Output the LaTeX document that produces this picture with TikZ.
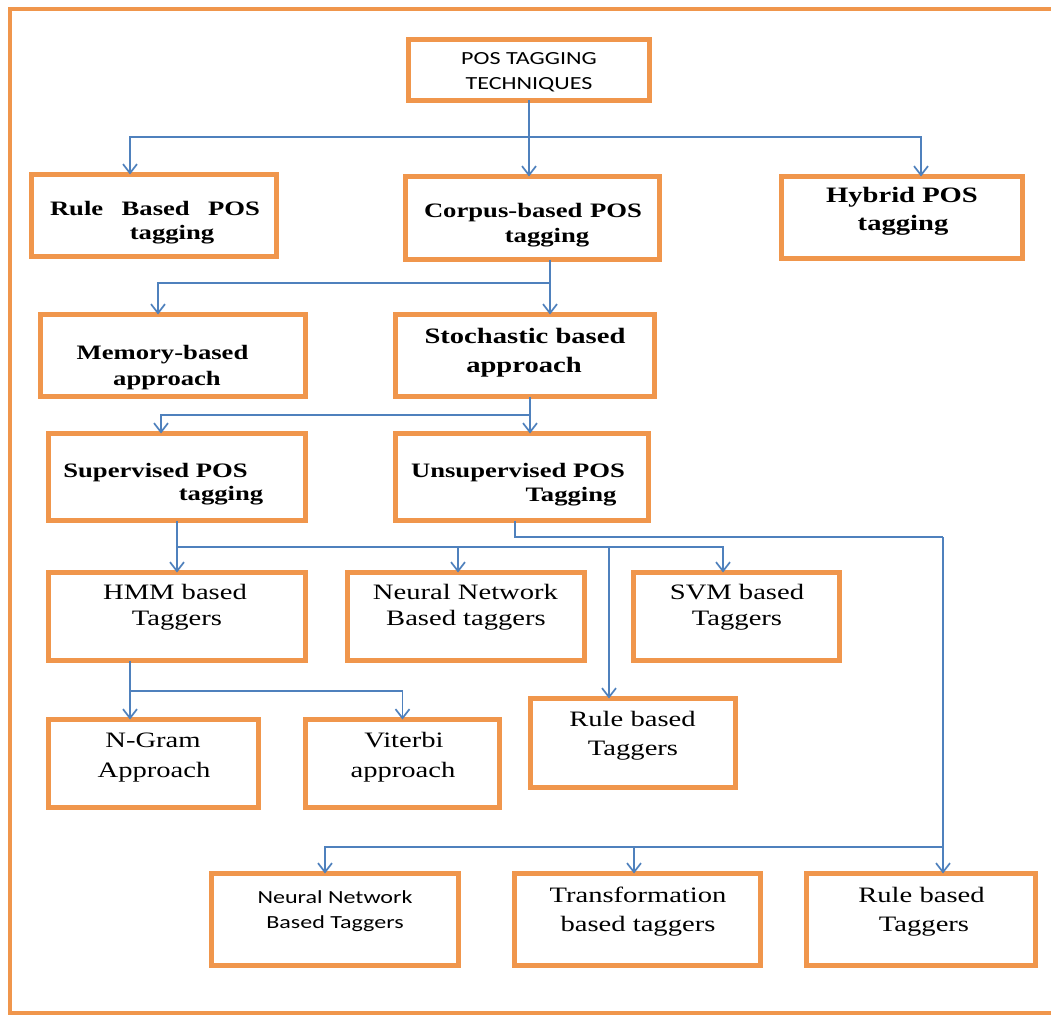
\documentclass[tikz,border=0pt]{standalone}
\usepackage{fontspec}
\setmainfont[FakeStretch=1.3]{Liberation Serif}
\newfontfamily\calib[FakeStretch=1.3]{Carlito}
\usetikzlibrary{arrows.meta,calc}
\definecolor{boxorange}{HTML}{F0964C}
\definecolor{linkblue}{HTML}{4F81BD}
\begin{document}
\begin{tikzpicture}[x=1pt,y=-1pt,
  box/.style={draw=boxorange,line width=4.2pt,inner sep=0pt,outer sep=0pt,fill=white},
  tx/.style={anchor=base,inner sep=0pt,outer sep=0pt},
  tn/.style={tx,font=\fontsize{22}{26}\selectfont},
  tb/.style={tx,font=\bfseries\fontsize{20.5}{24}\selectfont},
  tbb/.style={tx,font=\bfseries\fontsize{22}{26}\selectfont},
  tc/.style={tx,font=\calib\fontsize{18.5}{22}\selectfont},
  conn/.style={draw=linkblue,line width=1.9pt},
  arr/.style={conn,-{Straight Barb[length=9pt,width=14pt,line width=1.7pt]}}]
\useasboundingbox (0,0) rectangle (1051,1016);
\fill[white] (0,0) rectangle (1051,1016);
% outer frame
\draw[boxorange,line width=3.5pt] (1053,9) -- (10,9) -- (10,1013) -- (1053,1013);

% boxes
\node[box,minimum width=241pt,minimum height=61pt] (root) at (529,70) {};
\node[box,minimum width=245pt,minimum height=82pt] (rule) at (154,215.5) {};
\node[box,minimum width=254pt,minimum height=83pt] (corpus) at (532.5,218) {};
\node[box,minimum width=241pt,minimum height=82pt] (hybrid) at (902,217.5) {};
\node[box,minimum width=265pt,minimum height=82pt] (memory) at (173,355.5) {};
\node[box,minimum width=259pt,minimum height=82pt] (stoch) at (525,355.5) {};
\node[box,minimum width=257pt,minimum height=87pt] (sup) at (177,477) {};
\node[box,minimum width=253pt,minimum height=87pt] (unsup) at (522,477) {};
\node[box,minimum width=257pt,minimum height=88pt] (hmm) at (177,616.5) {};
\node[box,minimum width=237pt,minimum height=88pt] (nn) at (466,616.5) {};
\node[box,minimum width=206pt,minimum height=88pt] (svm) at (736.5,616.5) {};
\node[box,minimum width=205pt,minimum height=89pt] (rulemid) at (633,743) {};
\node[box,minimum width=210pt,minimum height=88pt] (ngram) at (153.5,763.5) {};
\node[box,minimum width=194pt,minimum height=88pt] (viterbi) at (402.5,763.5) {};
\node[box,minimum width=247pt,minimum height=92pt] (nnb) at (335,919.5) {};
\node[box,minimum width=246pt,minimum height=92pt] (trans) at (637.5,919.5) {};
\node[box,minimum width=229pt,minimum height=92pt] (ruleb) at (921,919.5) {};

% texts
\node[tc] (t-root-1) at (529,64.5) {POS TAGGING};
\node[tc] (t-root-2) at (529,89.5) {TECHNIQUES};
\node[tb] (t-rule-1) at (155,216) {\hbox to 210pt{Rule\hfill Based\hfill POS}};
\node[tb] (t-rule-2) at (172,240) {tagging};
\node[tb] (t-corpus-1) at (533,218) {\hbox to 218pt{Corpus-based\hfill POS}};
\node[tb] (t-corpus-2) at (547,243) {tagging};
\node[tbb] (t-hybrid-1) at (902,203) {Hybrid POS};
\node[tbb] (t-hybrid-2) at (903,230) {tagging};
\node[tb] (t-memory-1) at (162.5,359) {Memory-based};
\node[tb] (t-memory-2) at (167,385) {approach};
\node[tbb] (t-stoch-1) at (525,343) {Stochastic based};
\node[tbb] (t-stoch-2) at (524,372) {approach};
\node[tb] (t-sup-1) at (155.5,477) {Supervised POS};
\node[tb] (t-sup-2) at (221,500) {tagging};
\node[tb] (t-unsup-1) at (518,477) {Unsupervised POS};
\node[tb] (t-unsup-2) at (571,501) {Tagging};
\node[tn] (t-hmm-1) at (175,599) {HMM based};
\node[tn] (t-hmm-2) at (177,625) {Taggers};
\node[tn] (t-nn-1) at (465.5,599) {Neural Network};
\node[tn] (t-nn-2) at (466,625) {Based taggers};
\node[tn] (t-svm-1) at (737,599) {SVM based};
\node[tn] (t-svm-2) at (737,625) {Taggers};
\node[tn] (t-rulemid-1) at (632.5,726) {Rule based};
\node[tn] (t-rulemid-2) at (633,755) {Taggers};
\node[tn] (t-ngram-1) at (153,747) {N-Gram};
\node[tn] (t-ngram-2) at (154,777) {Approach};
\node[tn] (t-viterbi-1) at (404,747) {Viterbi};
\node[tn] (t-viterbi-2) at (403,777) {approach};
\node[tc] (t-nnb-1) at (335,903) {Neural Network};
\node[tc] (t-nnb-2) at (335,928) {Based Taggers};
\node[tn] (t-trans-1) at (638,902) {Transformation};
\node[tn] (t-trans-2) at (638,931) {based taggers};
\node[tn] (t-ruleb-1) at (921.5,902) {Rule based};
\node[tn] (t-ruleb-2) at (924,931) {Taggers};

% junction coordinates
\coordinate (j1) at (529,137);
\coordinate (j2) at (550,283);
\coordinate (j3) at (530,415);
\coordinate (j4) at (177,547);
\coordinate (j5) at (515,537);
\coordinate (j5b) at (943,537);
\coordinate (j6) at (943,847);
\coordinate (j7) at (130,691);

% connectors
\draw[conn] (root.south) -- (j1);
\draw[arr] (j1) -| ([xshift=-24pt]rule.north);
\draw[arr] (j1) -- (j1 |- corpus.north);
\draw[arr] (j1) -| ([xshift=19pt]hybrid.north);

\draw[conn] ([xshift=17.5pt]corpus.south) -- (j2);
\draw[arr] (j2) -| ([xshift=-15pt]memory.north);
\draw[arr] (j2) -- (j2 |- stoch.north);

\draw[conn] ([xshift=5pt]stoch.south) -- (j3);
\draw[arr] (j3) -| ([xshift=-16pt]sup.north);
\draw[arr] (j3) -- (j3 |- unsup.north);

\draw[conn] (sup.south) -- (j4);
\draw[arr] (j4) -- (hmm.north);
\draw[arr] (j4) -| ([xshift=-8pt]nn.north);
\draw[arr] (j4) -| ([xshift=-24pt]rulemid.north);
\draw[arr] (j4) -| ([xshift=-13.5pt]svm.north);

\draw[conn] ([xshift=-7pt]unsup.south) -- (j5) -- (j5b);
\draw[arr] (j5b) -- ([xshift=22pt]ruleb.north);
\draw[arr] (j6) -| ([xshift=-10pt]nnb.north);
\draw[arr] (j6) -| ([xshift=-3.5pt]trans.north);

\draw[conn] ([xshift=-47pt]hmm.south) -- (j7);
\draw[arr] (j7) -- (j7 |- ngram.north);
\draw[arr] (j7) -| (viterbi.north);
\end{tikzpicture}
\end{document}
